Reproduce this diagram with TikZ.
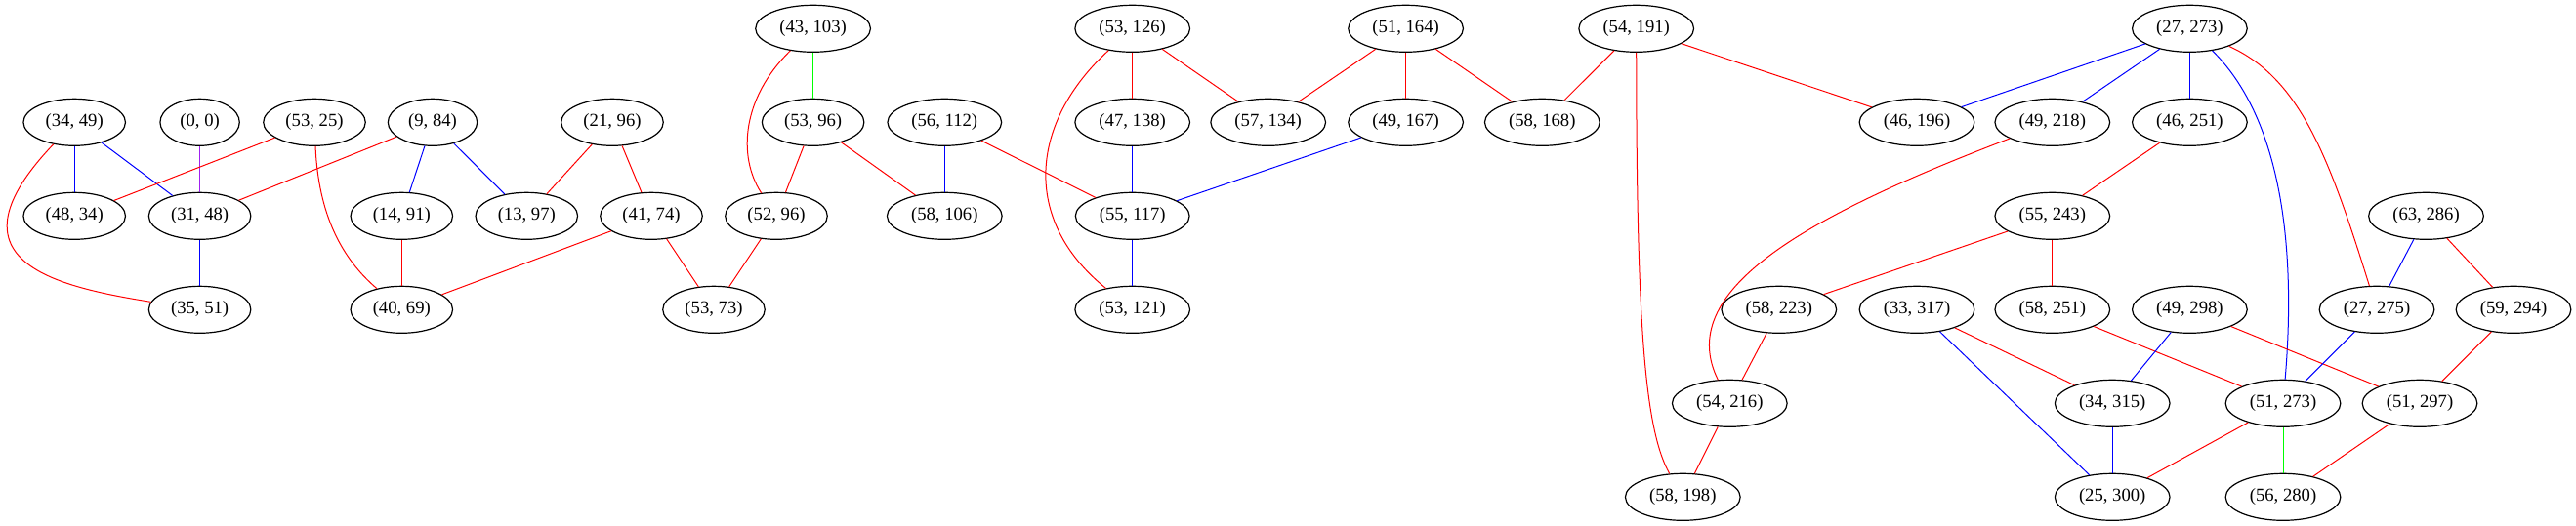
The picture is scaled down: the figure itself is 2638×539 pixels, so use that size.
\documentclass[tikz,border=0pt]{standalone}
\usepackage{fontspec}
\setmainfont{Liberation Serif}
\usetikzlibrary{shapes.geometric}
\definecolor{gvred}{HTML}{FF0000}
\definecolor{gvblue}{HTML}{0000FF}
\definecolor{gvgreen}{HTML}{00FF00}
\definecolor{gvpurple}{HTML}{A020F0}
\begin{document}
\begin{tikzpicture}[x=0.75pt,y=-0.75pt,
  gv/.style={draw, ellipse, line width=0.9pt, minimum height=36pt, minimum width=61pt,
    inner xsep=5.55pt, inner ysep=0pt, font=\fontsize{14pt}{16pt}\selectfont},
  er/.style={draw=gvred, line width=0.75pt},
  eb/.style={draw=gvblue, line width=0.75pt},
  eg/.style={draw=gvgreen, line width=0.75pt},
  ep/.style={draw=gvpurple, line width=0.75pt}]
\useasboundingbox[fill=white] (0,0) rectangle (2638,539);
% row 1
\node[gv] (a43x103) at (832.6,29.3) {(43, 103)};
\node[gv] (a53x126) at (1159.7,29.3) {(53, 126)};
\node[gv] (a51x164) at (1439.6,29.3) {(51, 164)};
\node[gv] (a54x191) at (1675.7,29.3) {(54, 191)};
\node[gv] (a27x273) at (2242.4,29.3) {(27, 273)};
% row 2
\node[gv] (a34x49) at (76.2,125.3) {(34, 49)};
\node[gv] (a0x0) at (204.6,125.3) {(0, 0)};
\node[gv] (a53x25) at (322,125.3) {(53, 25)};
\node[gv] (a9x84) at (443,125.3) {(9, 84)};
\node[gv] (a21x96) at (627,125.3) {(21, 96)};
\node[gv] (a53x96) at (832.6,125.3) {(53, 96)};
\node[gv] (a56x112) at (967.3,125.3) {(56, 112)};
\node[gv] (a47x138) at (1159.7,125.3) {(47, 138)};
\node[gv] (a57x134) at (1298.7,125.3) {(57, 134)};
\node[gv] (a49x167) at (1439.6,125.3) {(49, 167)};
\node[gv] (a58x168) at (1579.3,125.3) {(58, 168)};
\node[gv] (a46x196) at (1963,125.3) {(46, 196)};
\node[gv] (a49x218) at (2101.8,125.3) {(49, 218)};
\node[gv] (a46x251) at (2242.4,125.3) {(46, 251)};
% row 3
\node[gv] (a48x34) at (76.2,221.3) {(48, 34)};
\node[gv] (a31x48) at (204.6,221.3) {(31, 48)};
\node[gv] (a14x91) at (411.3,221.3) {(14, 91)};
\node[gv] (a13x97) at (539.3,221.3) {(13, 97)};
\node[gv] (a41x74) at (667,221.3) {(41, 74)};
\node[gv] (a52x96) at (795,221.3) {(52, 96)};
\node[gv] (a58x106) at (967.3,221.3) {(58, 106)};
\node[gv] (a55x117) at (1159.7,221.3) {(55, 117)};
\node[gv] (a55x243) at (2101.8,221.3) {(55, 243)};
\node[gv] (a63x286) at (2484.5,221.3) {(63, 286)};
% row 4
\node[gv] (a35x51) at (204.6,317.3) {(35, 51)};
\node[gv] (a40x69) at (411.3,317.3) {(40, 69)};
\node[gv] (a53x73) at (731,317.3) {(53, 73)};
\node[gv] (a53x121) at (1159.7,317.3) {(53, 121)};
\node[gv] (a58x223) at (1821.8,317.3) {(58, 223)};
\node[gv] (a33x317) at (1963,317.3) {(33, 317)};
\node[gv] (a58x251) at (2101.8,317.3) {(58, 251)};
\node[gv] (a49x298) at (2242.4,317.3) {(49, 298)};
\node[gv] (a27x275) at (2434,317.3) {(27, 275)};
\node[gv] (a59x294) at (2574,317.3) {(59, 294)};
% row 5
\node[gv] (a54x216) at (1771.3,413.3) {(54, 216)};
\node[gv] (a34x315) at (2163.2,413.3) {(34, 315)};
\node[gv] (a51x273) at (2338,413.3) {(51, 273)};
\node[gv] (a51x297) at (2478,413.3) {(51, 297)};
% row 6
\node[gv] (a58x198) at (1723.3,509.3) {(58, 198)};
\node[gv] (a25x300) at (2163.2,509.3) {(25, 300)};
\node[gv] (a56x280) at (2338,509.3) {(56, 280)};
% edges
\draw[er] (a34x49) .. controls (-58,266) and (52,293) .. (a35x51);
\draw[eb] (a34x49) -- (a48x34);
\draw[eb] (a34x49) -- (a31x48);
\draw[ep] (a0x0) -- (a31x48);
\draw[er] (a53x25) -- (a48x34);
\draw[er] (a53x25) .. controls (326,220) and (350,265) .. (a40x69);
\draw[er] (a9x84) -- (a31x48);
\draw[eb] (a9x84) -- (a14x91);
\draw[eb] (a9x84) -- (a13x97);
\draw[er] (a21x96) -- (a13x97);
\draw[er] (a21x96) -- (a41x74);
\draw[eb] (a31x48) -- (a35x51);
\draw[er] (a14x91) -- (a40x69);
\draw[er] (a41x74) -- (a40x69);
\draw[er] (a41x74) -- (a53x73);
\draw[er] (a52x96) -- (a53x73);
\draw[eg] (a43x103) -- (a53x96);
\draw[er] (a43x103) .. controls (760,100) and (755,160) .. (a52x96);
\draw[er] (a53x96) -- (a52x96);
\draw[er] (a53x96) -- (a58x106);
\draw[eb] (a56x112) -- (a58x106);
\draw[er] (a56x112) -- (a55x117);
\draw[er] (a53x126) -- (a47x138);
\draw[er] (a53x126) -- (a57x134);
\draw[er] (a53x126) .. controls (1055,125) and (1045,225) .. (a53x121);
\draw[eb] (a47x138) -- (a55x117);
\draw[eb] (a49x167) -- (a55x117);
\draw[eb] (a55x117) -- (a53x121);
\draw[er] (a51x164) -- (a57x134);
\draw[er] (a51x164) -- (a49x167);
\draw[er] (a51x164) -- (a58x168);
\draw[er] (a54x191) -- (a58x168);
\draw[er] (a54x191) -- (a46x196);
\draw[er] (a54x191) .. controls (1676,330) and (1684,440) .. (a58x198);
\draw[eb] (a27x273) -- (a46x196);
\draw[eb] (a27x273) -- (a49x218);
\draw[eb] (a27x273) -- (a46x251);
\draw[eb] (a27x273) .. controls (2335,120) and (2352,250) .. (a51x273);
\draw[er] (a27x273) .. controls (2355,80) and (2385,160) .. (a27x275);
\draw[er] (a49x218) .. controls (1840,225) and (1715,300) .. (a54x216);
\draw[er] (a46x251) -- (a55x243);
\draw[er] (a55x243) -- (a58x223);
\draw[er] (a55x243) -- (a58x251);
\draw[eb] (a63x286) -- (a27x275);
\draw[er] (a63x286) -- (a59x294);
\draw[er] (a58x223) -- (a54x216);
\draw[er] (a33x317) -- (a34x315);
\draw[eb] (a33x317) -- (a25x300);
\draw[er] (a58x251) -- (a51x273);
\draw[eb] (a49x298) -- (a34x315);
\draw[er] (a49x298) -- (a51x297);
\draw[eb] (a27x275) -- (a51x273);
\draw[er] (a59x294) -- (a51x297);
\draw[er] (a54x216) -- (a58x198);
\draw[eb] (a34x315) -- (a25x300);
\draw[er] (a51x273) -- (a25x300);
\draw[eg] (a51x273) -- (a56x280);
\draw[er] (a51x297) -- (a56x280);
\end{tikzpicture}
\end{document}
